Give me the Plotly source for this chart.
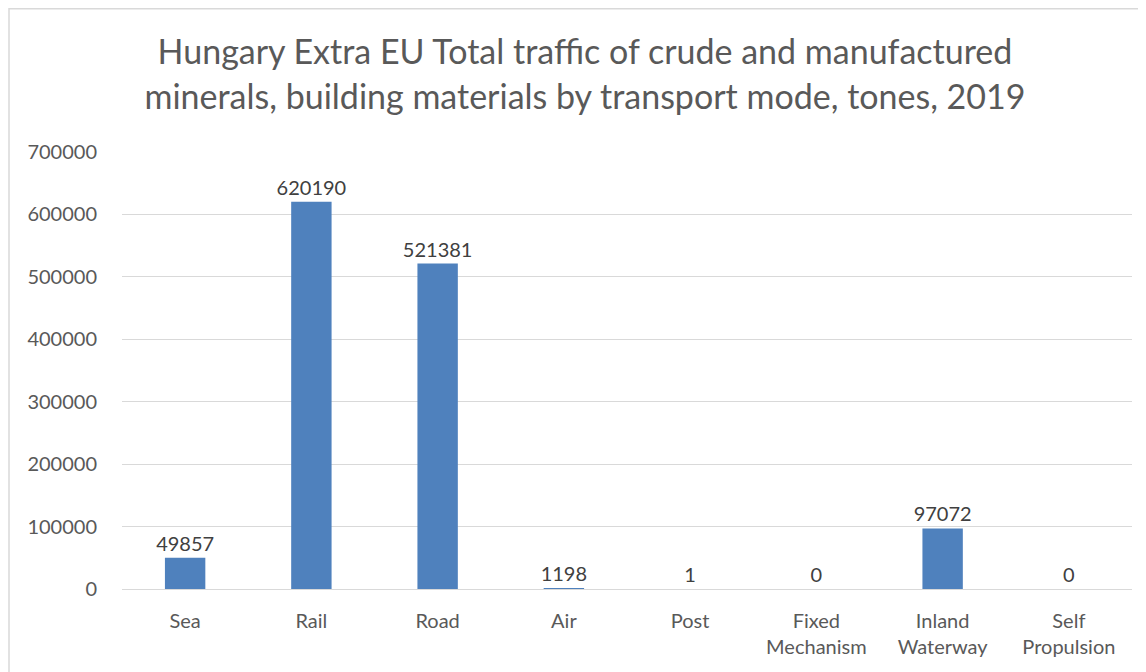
import plotly.graph_objects as go

categories = ["Sea", "Rail", "Road", "Air", "Post", "Fixed<br>Mechanism", "Inland<br>Waterway", "Self<br>Propulsion"]
values = [49857, 620190, 521381, 1198, 1, 0, 97072, 0]
title_text = "Hungary Extra EU Total traffic of crude and manufactured<br>minerals, building materials by transport mode, tones, 2019"

FONT = "Lato"

fig = go.Figure(go.Bar(
    x=categories, y=values,
    marker=dict(color="#4F81BD", line=dict(width=0)),
    text=[str(v) for v in values],
    textposition="outside",
    constraintext="none",
    textfont=dict(family=FONT, size=20, color="#404040"),
    cliponaxis=False,
    width=0.32,
))

fig.update_layout(
    width=1138, height=664,
    paper_bgcolor="white", plot_bgcolor="white",
    margin=dict(l=114, r=14, t=144, b=83),
    title=dict(text=title_text, x=0.507, xanchor="center", y=0.915, yanchor="top",
               font=dict(family=FONT, size=34, color="#595959")),
    font=dict(family=FONT, size=20, color="#595959"),
    showlegend=False,
    xaxis=dict(showgrid=False, showline=False, ticks="", ticklabelstandoff=18,
               tickfont=dict(size=20, color="#595959")),
    yaxis=dict(range=[0, 700000], dtick=100000, tickformat="d", showgrid=True,
               gridcolor="#D9D9D9", gridwidth=1.3, zeroline=True, zerolinecolor="#D9D9D9",
               zerolinewidth=1.3, ticks="", ticklabelstandoff=24,
               tickfont=dict(size=20, color="#595959")),
    shapes=[dict(type="rect", xref="paper", yref="paper",
                 x0=-113/1010, x1=1.02, y0=-0.25, y1=(581-0.7)/437,
                 line=dict(color="#D9D9D9", width=1.5), fillcolor="rgba(0,0,0,0)", layer="below")],
)

fig.write_html("out.html")
